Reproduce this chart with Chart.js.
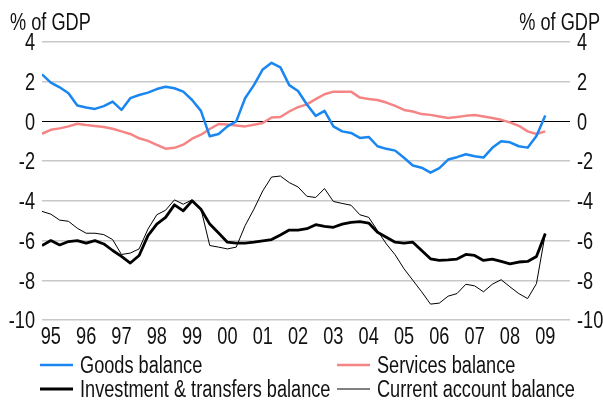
<!DOCTYPE html>
<html>
<head>
<meta charset="utf-8">
<script src="https://cdn.jsdelivr.net/npm/chart.js@4"></script>
<style>
  html, body { margin: 0; padding: 0; background: #fff; }
  #wrap { width: 603px; height: 401px; }
</style>
</head>
<body>
<div id="wrap"><canvas id="balanceChart" width="603" height="401"></canvas></div>
<script>
const unitLabel = '% of GDP';
const yearLabels = ['95', '96', '97', '98', '99', '00', '01', '02', '03', '04', '05', '06', '07', '08', '09'];
// quarterly observations, 95Q1 .. 09Q2
const quarters = yearLabels.flatMap(y => ['Q1', 'Q2', 'Q3', 'Q4'].map(q => y + q)).slice(0, 58);

const goodsBalance = [
  2.37, 1.95, 1.72, 1.42, 0.80, 0.70, 0.63, 0.77, 1.00, 0.58,
  1.17, 1.33, 1.45, 1.63, 1.75, 1.67, 1.50, 1.08, 0.53, -0.75,
  -0.63, -0.25, 0.00, 1.17, 1.83, 2.62, 2.95, 2.72, 1.83, 1.53,
  0.85, 0.28, 0.53, -0.25, -0.50, -0.58, -0.83, -0.78, -1.25, -1.38,
  -1.47, -1.83, -2.22, -2.33, -2.58, -2.35, -1.92, -1.80, -1.65, -1.75,
  -1.82, -1.33, -1.00, -1.05, -1.25, -1.32, -0.73, 0.30
];
const servicesBalance = [
  -0.62, -0.42, -0.35, -0.25, -0.12, -0.18, -0.23, -0.28, -0.37, -0.50,
  -0.63, -0.85, -0.98, -1.18, -1.37, -1.33, -1.17, -0.87, -0.67, -0.38,
  -0.13, -0.15, -0.20, -0.25, -0.17, -0.08, 0.20, 0.22, 0.50, 0.72,
  0.86, 1.12, 1.37, 1.50, 1.50, 1.50, 1.20, 1.13, 1.08, 0.95,
  0.78, 0.58, 0.50, 0.37, 0.33, 0.25, 0.17, 0.22, 0.28, 0.32,
  0.25, 0.17, 0.08, -0.05, -0.22, -0.50, -0.63, -0.50
];
const investmentBalance = [
  -6.25, -6.00, -6.22, -6.05, -6.00, -6.13, -6.00, -6.17, -6.50, -6.80,
  -7.13, -6.75, -5.75, -5.17, -4.83, -4.20, -4.50, -4.00, -4.42, -5.17,
  -5.62, -6.08, -6.13, -6.13, -6.08, -6.02, -5.95, -5.72, -5.47, -5.47,
  -5.40, -5.20, -5.28, -5.33, -5.17, -5.08, -5.05, -5.12, -5.58, -5.83,
  -6.08, -6.13, -6.08, -6.50, -6.92, -7.00, -6.97, -6.93, -6.70, -6.75,
  -7.00, -6.93, -7.05, -7.17, -7.08, -7.05, -6.80, -5.65
];
const currentAccount = [
  -4.53, -4.67, -4.97, -5.03, -5.38, -5.63, -5.63, -5.70, -5.95, -6.70,
  -6.63, -6.42, -5.42, -4.70, -4.47, -3.95, -4.17, -3.95, -4.40, -6.25,
  -6.33, -6.42, -6.33, -5.25, -4.42, -3.50, -2.80, -2.75, -3.08, -3.30,
  -3.77, -3.83, -3.38, -4.03, -4.13, -4.22, -4.70, -4.83, -5.50, -6.17,
  -6.72, -7.42, -8.00, -8.58, -9.20, -9.15, -8.80, -8.67, -8.20, -8.28,
  -8.58, -8.20, -7.97, -8.33, -8.67, -8.92, -8.17, -5.65
];

const FONT = "'Liberation Sans', Arial, sans-serif";
const FONT_SIZE = 23;
const SQUEEZE = 0.79;   // no narrow face installed, so condense the regular one
Chart.defaults.font.family = FONT;
Chart.defaults.font.size = FONT_SIZE;

const points = vals => vals.map((v, i) => ({ x: i, y: v, q: quarters[i] }));

function narrowText(ctx, text, x, y, align) {
  ctx.save();
  ctx.translate(x, y);
  ctx.scale(SQUEEZE, 1);
  ctx.textAlign = align;
  ctx.fillText(text, 0, 0);
  ctx.restore();
}

// tick labels, unit captions and the two-column legend, all in the condensed face
const chartText = {
  id: 'chartText',
  afterDraw(chart) {
    const { ctx, scales } = chart;
    ctx.save();
    ctx.font = FONT_SIZE + 'px ' + FONT;
    ctx.fillStyle = '#111';
    ctx.textBaseline = 'alphabetic';

    narrowText(ctx, unitLabel, 10, 29.5, 'left');
    narrowText(ctx, unitLabel, 600, 29.5, 'right');

    scales.y.ticks.forEach(t => {
      const py = scales.y.getPixelForValue(t.value) + 8.3;
      narrowText(ctx, String(t.value), scales.y.right - 7, py, 'right');
      narrowText(ctx, String(t.value), scales.y2.left + 7, py, 'left');
    });
    scales.x.ticks.forEach((t, i) => {
      narrowText(ctx, yearLabels[i], scales.x.getPixelForValue(t.value), 343.5, 'center');
    });

    const cols = [40, 337];
    const rows = [365, 389];
    chart.data.datasets.forEach((ds, k) => {
      const x = cols[k % 2];
      const y = rows[Math.floor(k / 2)];
      ctx.strokeStyle = ds.borderColor;
      ctx.lineWidth = ds.borderWidth;
      ctx.beginPath();
      ctx.moveTo(x, y);
      ctx.lineTo(x + 33, y);
      ctx.stroke();
      narrowText(ctx, ds.label, x + 40, y + 7.5, 'left');
    });
    ctx.restore();
  }
};

new Chart(document.getElementById('balanceChart'), {
  type: 'line',
  data: {
    datasets: [
      { label: 'Goods balance', data: points(goodsBalance), borderColor: '#1a86f0', borderWidth: 2.5 },
      { label: 'Services balance', data: points(servicesBalance), borderColor: '#f58585', borderWidth: 2.5 },
      { label: 'Investment & transfers balance', data: points(investmentBalance), borderColor: '#000', borderWidth: 2.8 },
      { label: 'Current account balance', data: points(currentAccount), borderColor: '#000', borderWidth: 1 }
    ]
  },
  options: {
    responsive: false,
    animation: false,
    events: [],
    layout: { padding: { top: 42, left: 0, right: 0, bottom: 0 } },
    elements: { point: { radius: 0 }, line: { tension: 0, borderJoinStyle: 'round' } },
    plugins: { legend: { display: false }, tooltip: { enabled: false } },
    scales: {
      x: {
        type: 'linear',
        min: 0,
        max: 59.8,
        afterBuildTicks: axis => { axis.ticks = yearLabels.map((_, k) => ({ value: 1 + 4 * k })); },
        afterFit: axis => { axis.height = 81; },
        ticks: { display: false },
        grid: { display: false },
        border: { display: false }
      },
      y: {
        position: 'left',
        min: -10,
        max: 4,
        afterFit: axis => { axis.width = 42; },
        ticks: { stepSize: 2, display: false },
        grid: {
          drawTicks: false,
          color: c => c.tick.value === 0 ? '#000' : '#c8c8c8',
          lineWidth: c => c.tick.value === 0 ? 1 : 1.5
        },
        border: { display: false }
      },
      y2: {
        position: 'right',
        min: -10,
        max: 4,
        afterFit: axis => { axis.width = 33; },
        ticks: { stepSize: 2, display: false },
        grid: { display: false, drawTicks: false },
        border: { display: false }
      }
    }
  },
  plugins: [chartText]
});
</script>
</body>
</html>
